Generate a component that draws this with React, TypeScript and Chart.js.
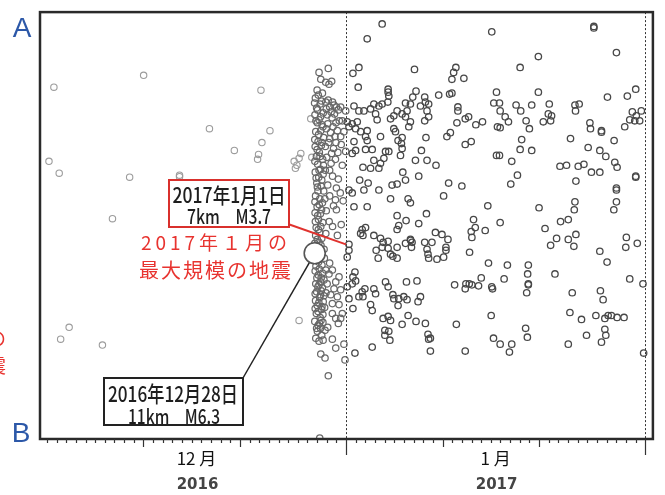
import React, { useEffect, useRef } from "react";
import { Chart, registerables } from "chart.js";

Chart.register(...registerables);

// x: days since 2016-12-01 00:00, y: position along profile A–B (0 = A, 43.2 = B)
const xMin = -0.72;
const xMax = 62.8;
const yMin = 0;
const yMax = 43.2;

const monthBoundaries = [31, 62];
const majorTickDays = [10, 20, 41, 51];
const monthLabels = ["12 月", "1 月"];
const monthCenters = [15.5, 46.5];
const yearLabels = ["2016", "2017"];

// the M6.3 main shock (2016-12-28) and the largest January event (2017-01-01 M3.7)
const mainShock: number[][] = [[27.75, 24.4]];
const janLargest: number[] = [31.3, 23.5];

// events before the main shock
const preShocks: number[][] = [
  [0.21, 15.1], [0.72, 7.6], [1.27, 16.3], [8.57, 16.7], [10.02, 6.4], [13.74, 16.5],
  [13.74, 16.65], [6.79, 20.9], [16.84, 11.8], [19.42, 14.0], [21.93, 14.4], [21.83, 14.9],
  [22.28, 13.2], [23.11, 12.0], [22.18, 7.9], [2.3, 31.9], [1.42, 33.1], [5.75, 33.7],
  [25.62, 15.1], [25.9, 15.5], [26.31, 14.3], [26.13, 14.8], [25.75, 15.8], [26.13, 31.2],
  [27.34, 10.8], [27.45, 14.7],
];

// aftershocks in December (after the main shock)
const decAftershocks: number[][] = [
  [29.16, 5.7], [28.2, 6.1], [28.38, 6.8], [28.89, 7.1], [29.51, 7.0], [29.23, 7.3], [28.0, 7.9], [28.55, 8.2],
  [27.82, 8.7], [28.12, 8.4], [28.46, 9.0], [27.95, 9.7], [28.31, 9.3], [28.63, 10.2], [27.78, 10.4], [28.2, 10.9],
  [28.51, 11.4], [28.02, 11.2], [27.86, 12.1], [28.37, 12.0], [28.68, 12.7], [28.1, 13.1], [27.8, 13.6], [28.44, 13.5],
  [28.23, 14.2], [27.93, 14.6], [28.58, 14.9], [28.06, 15.4], [28.35, 15.9], [27.81, 16.2], [28.17, 16.7], [28.62, 16.4],
  [27.97, 17.3], [28.41, 17.6], [28.09, 18.1], [27.84, 18.6], [28.28, 18.9], [28.55, 19.3], [28.0, 19.7], [27.79, 20.3],
  [28.34, 20.4], [28.14, 21.0], [28.6, 21.3], [27.9, 21.8], [28.27, 22.3], [28.48, 22.9], [28.02, 23.0], [27.85, 22.6],
  [28.4, 23.6], [28.72, 24.0],
  [27.74, 9.2], [28.05, 9.9], [28.36, 10.6], [27.88, 11.0], [28.6, 11.6], [28.15, 12.4], [27.76, 12.9], [28.5, 13.2],
  [28.0, 13.9], [28.3, 14.6], [27.77, 15.1], [28.66, 15.5], [28.2, 16.0], [27.9, 16.8], [28.48, 17.0], [28.03, 17.7],
  [28.68, 18.1], [27.78, 19.2], [28.22, 19.5], [28.46, 20.0], [28.06, 20.6], [27.82, 21.2], [28.38, 21.7], [28.13, 22.0],
  [27.76, 23.4], [28.2, 23.3],
  [28.9, 9.1], [29.3, 9.6], [29.75, 9.4], [30.2, 9.9], [30.44, 9.6], [29.05, 10.4], [29.55, 10.7], [29.95, 11.2],
  [30.61, 11.0], [28.95, 11.8], [29.4, 12.2], [29.85, 12.6], [30.44, 12.6], [30.78, 12.1], [29.2, 13.2], [29.7, 13.8],
  [30.15, 14.2], [30.96, 14.1], [30.96, 10.0], [29.0, 14.7], [29.45, 15.3], [30.61, 15.5], [28.85, 16.0], [29.6, 16.6],
  [30.2, 16.9], [29.1, 17.5], [30.0, 17.8], [30.4, 18.3], [29.9, 19.0], [29.7, 19.6], [30.0, 20.0], [30.7, 19.1],
  [29.3, 18.6], [28.95, 20.1], [29.25, 21.2], [29.6, 21.7], [28.9, 22.4], [30.1, 22.6], [30.5, 21.5], [28.8, 18.9],
  [28.95, 9.8], [29.15, 8.9], [29.6, 9.1], [30.0, 9.6], [29.45, 10.1], [29.8, 10.3], [30.3, 11.0], [29.1, 11.3],
  [29.65, 11.6], [30.1, 12.0], [29.3, 12.8], [29.95, 13.2], [28.85, 13.6], [29.5, 14.3], [29.9, 14.9], [29.3, 16.0],
  [30.5, 13.4],
  [27.88, 25.7], [28.22, 26.0], [28.55, 26.4], [27.98, 26.9], [28.36, 27.3], [28.71, 27.1], [28.08, 27.8], [28.43, 28.2],
  [27.8, 28.5], [28.27, 28.9], [28.63, 29.3], [28.01, 29.7], [28.47, 30.1], [27.92, 30.5], [28.32, 30.9], [28.78, 29.9],
  [28.92, 28.4], [29.04, 27.5], [28.9, 26.1], [27.76, 31.3], [28.15, 25.3], [28.5, 25.6], [28.6, 31.4], [28.1, 31.7],
  [28.4, 31.2], [29.1, 31.9], [29.3, 25.4], [28.75, 24.9],
  [27.8, 26.2], [28.12, 26.6], [28.42, 26.9], [27.86, 27.5], [28.2, 27.6], [28.55, 27.9], [27.95, 28.3], [28.35, 28.6],
  [28.7, 28.7], [27.84, 29.2], [28.18, 29.4], [28.5, 29.8], [28.1, 30.3], [27.8, 30.0], [28.6, 30.6], [28.25, 31.5],
  [27.95, 32.0], [28.35, 32.0],
  [29.23, 26.5], [29.58, 26.1], [29.93, 27.3], [30.27, 26.8], [29.75, 28.0], [30.44, 28.1], [29.41, 28.6], [30.1, 28.8],
  [29.58, 29.5], [30.27, 29.6], [30.61, 30.5], [30.44, 31.0], [29.58, 30.5], [29.93, 31.0], [30.2, 31.5],
  [28.03, 32.3], [28.48, 32.7], [27.86, 33.0], [28.2, 33.3], [28.62, 33.2], [28.82, 32.2], [29.58, 33.1], [29.93, 34.0],
  [28.38, 34.6], [28.82, 35.0], [29.16, 36.8], [28.27, 43.1], [30.89, 35.2], [30.78, 33.6],
];

// events in January 2017
const janShocks: number[][] = [
  [34.74, 1.2], [33.19, 2.7], [46.1, 2.0], [31.71, 6.2], [32.33, 5.6], [38.09, 5.8], [42.38, 5.6], [42.15, 6.1],
  [43.21, 6.7], [41.97, 6.8], [32.26, 7.6], [35.36, 7.8], [35.36, 8.1], [35.43, 8.5], [35.33, 9.1], [38.25, 8.0],
  [37.91, 8.6], [39.15, 8.6], [40.6, 8.4], [41.73, 8.3], [41.97, 8.2], [46.59, 8.1], [46.31, 9.2], [31.82, 9.5],
  [32.33, 10.0], [32.85, 10.0], [33.54, 9.8], [33.88, 9.3], [34.4, 9.5], [34.74, 9.3], [37.16, 9.2], [37.67, 9.3],
  [38.71, 9.5], [39.22, 9.1], [39.56, 9.3], [39.39, 10.0], [36.29, 10.0], [36.81, 10.3], [37.32, 10.0], [37.16, 10.6],
  [37.67, 11.1], [37.5, 11.6], [35.61, 10.8], [35.95, 10.5], [34.06, 10.3], [34.22, 10.9], [42.59, 9.6], [42.59, 10.0],
  [39.56, 10.6], [39.15, 11.0], [42.49, 11.2], [43.35, 10.8], [43.7, 10.6], [44.45, 11.4], [45.14, 11.1], [31.12, 11.1],
  [31.64, 11.3], [32.16, 11.1], [31.3, 11.6], [31.99, 11.8], [32.51, 12.1], [33.19, 12.0], [33.02, 12.6], [33.19, 13.0],
  [34.57, 12.6], [35.95, 11.8], [36.12, 12.1], [36.39, 13.0], [36.81, 12.7], [36.74, 13.3], [36.81, 13.8], [39.28, 12.7],
  [41.45, 12.6], [41.81, 12.2], [43.35, 13.4], [43.97, 13.1], [31.82, 13.1], [31.99, 14.0], [31.64, 14.3], [33.02, 13.9],
  [33.71, 13.9], [35.09, 14.1], [35.43, 14.1], [34.92, 14.8], [36.64, 14.5], [38.81, 14.0], [33.88, 15.0], [34.57, 15.3],
  [34.4, 15.8], [33.54, 15.8], [32.75, 15.7], [38.19, 15.0], [39.39, 15.0], [40.32, 15.5], [36.88, 16.2], [38.53, 16.6],
  [32.41, 17.0], [33.29, 17.3], [35.77, 17.5], [36.29, 17.4], [37.16, 17.0], [41.63, 17.3], [43.0, 17.6], [46.69, 11.6],
  [46.59, 14.5],
  [56.68, 1.45], [56.68, 1.6], [50.93, 4.5], [59.02, 4.1], [49.04, 5.6], [50.93, 8.1], [61.02, 7.8], [60.15, 8.5],
  [58.09, 8.6], [46.9, 9.2], [46.97, 10.0], [48.62, 9.4], [49.1, 10.0], [50.24, 9.4], [52.06, 9.3], [51.96, 10.3],
  [52.3, 10.5], [52.2, 11.0], [51.44, 11.1], [54.72, 9.4], [55.16, 9.3], [54.78, 10.0], [47.49, 10.6], [47.83, 11.1],
  [46.97, 11.7], [49.66, 11.0], [50.0, 11.8], [56.27, 11.2], [56.33, 11.8], [57.47, 12.0], [57.47, 12.15], [59.88, 11.6],
  [60.4, 10.9], [60.67, 10.1], [61.08, 10.5], [61.6, 10.0], [61.43, 11.0], [60.92, 11.0], [54.26, 12.8], [49.2, 12.9],
  [49.04, 13.9], [50.24, 14.0], [58.78, 13.0], [56.09, 13.7], [57.3, 14.0], [57.92, 14.6], [46.9, 14.5], [48.17, 15.1],
  [53.17, 15.6], [53.85, 15.5], [55.06, 15.6], [55.65, 15.4], [56.43, 16.2], [57.3, 16.2], [58.85, 15.2], [59.09, 15.7],
  [48.76, 16.5], [48.07, 17.4], [54.82, 17.1], [61.02, 16.6], [61.02, 16.7], [59.02, 17.8],
  [31.3, 18.0], [31.64, 18.3], [32.85, 18.0], [34.4, 18.0], [35.61, 18.9], [37.43, 18.9], [37.67, 19.3], [41.11, 18.6],
  [31.82, 19.7], [33.19, 19.7], [45.69, 19.6], [39.33, 20.4], [36.29, 20.6], [37.22, 21.1], [36.46, 21.6], [36.29, 22.0],
  [38.53, 21.4], [44.21, 21.0], [44.39, 21.8], [43.97, 22.2], [44.04, 22.8], [45.42, 22.1], [32.67, 22.0], [33.02, 21.8],
  [32.51, 22.4], [32.75, 22.6], [33.88, 22.6], [34.57, 22.9], [34.84, 23.3], [35.36, 23.2], [34.74, 23.8], [37.67, 23.0],
  [37.7, 23.1], [37.84, 23.3], [37.78, 23.8], [37.16, 23.4], [36.29, 23.8], [40.26, 22.3], [40.94, 22.5], [41.56, 23.0],
  [39.15, 23.3], [39.9, 23.3], [39.39, 24.0], [39.49, 24.5], [39.56, 24.9], [40.42, 25.0], [41.11, 24.8], [41.35, 24.1],
  [41.35, 23.8], [34.12, 24.1], [34.33, 24.9], [35.36, 23.9], [35.61, 24.5], [35.85, 24.7], [36.29, 24.9], [31.3, 23.5],
  [31.3, 24.1], [31.12, 24.8], [43.8, 24.3], [45.76, 25.4], [31.92, 26.3], [31.71, 26.8], [31.99, 27.2], [31.64, 27.5],
  [31.12, 27.8], [45.01, 26.9], [42.25, 27.6], [43.42, 27.5], [43.77, 27.5], [44.04, 27.6], [44.73, 27.7], [43.35, 28.0],
  [46.1, 27.8], [46.18, 28.0], [35.09, 27.3], [35.36, 27.8], [37.26, 27.3], [38.35, 27.2], [32.95, 28.0], [32.67, 28.3],
  [32.33, 28.8], [32.75, 28.8], [33.88, 28.0], [34.06, 28.5], [35.85, 28.6], [35.95, 29.0], [36.46, 29.0], [36.98, 28.8],
  [37.32, 29.1], [36.39, 29.7], [38.71, 28.8], [38.46, 29.3], [31.3, 29.0], [33.54, 29.6], [33.71, 30.2], [31.71, 30.0],
  [34.84, 31.0], [35.36, 30.8], [35.61, 31.2], [37.43, 30.7], [36.81, 31.6], [38.25, 31.3], [39.22, 31.5], [42.43, 31.6],
  [46.04, 30.7], [35.02, 32.2], [35.02, 32.7], [35.43, 32.3], [35.54, 33.2], [39.49, 32.6], [39.74, 33.0], [39.56, 33.1],
  [46.28, 33.0], [33.71, 33.9], [31.92, 34.5], [39.74, 34.3], [43.35, 34.3],
  [59.02, 18.0], [59.02, 19.2], [58.75, 20.0], [54.72, 19.2], [54.65, 20.0], [51.0, 19.8], [46.97, 21.3], [51.62, 21.9],
  [53.23, 21.2], [54.03, 21.0], [52.82, 22.9], [52.2, 23.6], [54.03, 23.0], [54.82, 22.5], [54.61, 23.7], [60.05, 22.8],
  [59.99, 23.8], [61.18, 23.4], [57.3, 24.2], [58.05, 25.3], [47.72, 25.6], [49.89, 25.6], [49.82, 26.5], [49.89, 27.5],
  [49.89, 27.6], [49.72, 28.4], [47.38, 27.0], [52.65, 26.5], [60.4, 27.0], [61.77, 27.5], [54.44, 28.4], [57.36, 28.2],
  [57.64, 29.1], [54.2, 30.4], [55.4, 31.1], [56.89, 30.7], [57.82, 31.0], [58.16, 30.7], [58.5, 30.7], [59.09, 30.9],
  [59.81, 30.9], [57.82, 32.1], [57.92, 32.7], [57.47, 33.4], [55.92, 32.7], [49.61, 32.0], [49.79, 32.9], [54.03, 33.6],
  [46.97, 33.6], [48.17, 33.6], [47.93, 34.4], [61.84, 34.5],
];

const CJK = '"Noto Sans CJK JP", "Noto Sans", sans-serif';

function drawFitText(ctx: CanvasRenderingContext2D, text: string, cx: number, cy: number, font: string, maxW: number) {
  ctx.font = font;
  ctx.textAlign = "center";
  ctx.textBaseline = "middle";
  ctx.fillText(text, cx, cy, maxW);
}

const overlayPlugin = {
  id: "overlay",
  beforeDatasetsDraw(chart: any) {
    const { ctx, chartArea: a, scales } = chart;
    const x = scales.x;
    ctx.save();
    ctx.strokeStyle = "#333";
    ctx.lineWidth = 1;
    ctx.setLineDash([2, 2]);
    for (const d of monthBoundaries) {
      const px = Math.round(x.getPixelForValue(d)) + 0.5;
      ctx.beginPath();
      ctx.moveTo(px, a.top);
      ctx.lineTo(px, a.bottom);
      ctx.stroke();
    }
    ctx.restore();
  },
  afterDraw(chart: any) {
    const { ctx, chartArea: a, scales } = chart;
    const x = scales.x;
    const y = scales.y;
    ctx.save();

    // frame
    ctx.strokeStyle = "#2a2a2a";
    ctx.lineWidth = 2.5;
    ctx.strokeRect(a.left, a.top, a.right - a.left, a.bottom - a.top);

    // day ticks
    ctx.lineWidth = 1.2;
    ctx.strokeStyle = "#333";
    for (let d = 0; d <= 62; d++) {
      let len = 4;
      if (majorTickDays.includes(d)) len = 8;
      if (monthBoundaries.includes(d)) len = 16;
      const px = Math.round(x.getPixelForValue(d)) + 0.5;
      ctx.beginPath();
      ctx.moveTo(px, a.bottom);
      ctx.lineTo(px, a.bottom + len);
      ctx.stroke();
    }

    // month / year labels
    ctx.fillStyle = "#111";
    monthLabels.forEach((t, i) => {
      ctx.font = `17px ${CJK}`;
      ctx.textAlign = "center";
      ctx.textBaseline = "middle";
      ctx.fillText(t, x.getPixelForValue(monthCenters[i]), 459);
    });
    ctx.fillStyle = "#444";
    yearLabels.forEach((t, i) => {
      ctx.font = `bold 15px "DejaVu Sans", sans-serif`;
      ctx.textAlign = "center";
      ctx.textBaseline = "middle";
      ctx.fillText(t, x.getPixelForValue(monthCenters[i]) + 1, 485);
    });

    // A / B
    ctx.fillStyle = "#2c58a8";
    ctx.font = `28px "Liberation Sans", sans-serif`;
    ctx.textAlign = "center";
    ctx.textBaseline = "middle";
    ctx.fillText("A", 22, 29);
    ctx.fillText("B", 21, 434);

    // cut-off red text from neighbouring panel
    ctx.fillStyle = "#e8332f";
    ctx.font = `19px ${CJK}`;
    ctx.textAlign = "right";
    ctx.fillText("の", 6, 339);
    ctx.fillText("震", 6, 366);

    // red pointer line: box -> largest January event
    const jx = x.getPixelForValue(janLargest[0]);
    const jy = y.getPixelForValue(janLargest[1]);
    ctx.strokeStyle = "#e0322e";
    ctx.lineWidth = 2;
    ctx.beginPath();
    ctx.moveTo(288, 224);
    ctx.lineTo(jx - 3, jy);
    ctx.stroke();

    // red box
    ctx.fillStyle = "#fff";
    ctx.fillRect(169, 180, 120, 47);
    ctx.strokeStyle = "#d9302c";
    ctx.lineWidth = 2;
    ctx.strokeRect(169, 180, 120, 47);
    ctx.fillStyle = "#1e1e1e";
    drawFitText(ctx, "2017年1月1日", 229, 195, `500 21px ${CJK}`, 113);
    drawFitText(ctx, "7km\u3000M3.7", 229, 216, `500 20px ${CJK}`, 84);

    // red caption
    ctx.fillStyle = "#e8332f";
    ctx.textAlign = "center";
    ctx.textBaseline = "middle";
    (ctx as any).letterSpacing = "4px";
    ctx.font = `19px ${CJK}`;
    ctx.fillText("2017年１月の", 216, 243, 155);
    (ctx as any).letterSpacing = "2px";
    ctx.font = `20px ${CJK}`;
    ctx.fillText("最大規模の地震", 216, 270, 156);
    (ctx as any).letterSpacing = "0px";

    // black pointer line: main shock -> box
    const mx = x.getPixelForValue(mainShock[0][0]);
    const my = y.getPixelForValue(mainShock[0][1]);
    const bx = 243;
    const by = 378;
    const dx = bx - mx;
    const dy = by - my;
    const dl = Math.hypot(dx, dy);
    ctx.strokeStyle = "#222";
    ctx.lineWidth = 1.5;
    ctx.beginPath();
    ctx.moveTo(mx + (dx / dl) * 11, my + (dy / dl) * 11);
    ctx.lineTo(bx, by);
    ctx.stroke();

    // black box
    ctx.fillStyle = "#fff";
    ctx.fillRect(104, 378, 139, 47);
    ctx.strokeStyle = "#222";
    ctx.lineWidth = 2;
    ctx.strokeRect(104, 378, 139, 47);
    ctx.fillStyle = "#1e1e1e";
    drawFitText(ctx, "2016年12月28日", 173, 394, `500 22px ${CJK}`, 130);
    drawFitText(ctx, "11km\u3000M6.3", 174, 416, `500 20px ${CJK}`, 92);

    ctx.restore();
  },
};

export default function App() {
  const canvasRef = useRef<HTMLCanvasElement | null>(null);

  useEffect(() => {
    if (!canvasRef.current) return;
    const toPts = (arr: number[][]) => arr.map(([d, p]) => ({ x: d, y: p }));
    const chart = new Chart(canvasRef.current, {
      type: "scatter",
      data: {
        datasets: [
          {
            label: "main",
            data: toPts(mainShock),
            pointRadius: 10.5,
            borderWidth: 1.6,
            borderColor: "#555",
            backgroundColor: "#fff",
            order: 0,
          },
          {
            label: "jan",
            data: toPts(janShocks),
            pointRadius: 3.2,
            borderWidth: 1.3,
            borderColor: "#484848",
            backgroundColor: "rgba(0,0,0,0)",
            order: 1,
          },
          {
            label: "dec",
            data: toPts(decAftershocks),
            pointRadius: 3.2,
            borderWidth: 1.25,
            borderColor: "#686868",
            backgroundColor: "rgba(0,0,0,0)",
            order: 2,
          },
          {
            label: "pre",
            data: toPts(preShocks),
            pointRadius: 3.2,
            borderWidth: 1.1,
            borderColor: "#9c9c9c",
            backgroundColor: "rgba(0,0,0,0)",
            order: 3,
          },
        ],
      },
      options: {
        animation: false,
        responsive: true,
        maintainAspectRatio: false,
        events: [],
        layout: { padding: { left: 40, top: 7, right: 10, bottom: 56 } },
        plugins: { legend: { display: false }, tooltip: { enabled: false } },
        scales: {
          x: { type: "linear", display: false, min: xMin, max: xMax },
          y: { type: "linear", display: false, min: yMin, max: yMax, reverse: true },
        },
      },
      plugins: [overlayPlugin],
    });
    return () => chart.destroy();
  }, []);

  return (
    <div style={{ position: "fixed", left: 0, top: 0, width: 665, height: 495, background: "#fff" }}>
      <canvas ref={canvasRef} />
    </div>
  );
}
